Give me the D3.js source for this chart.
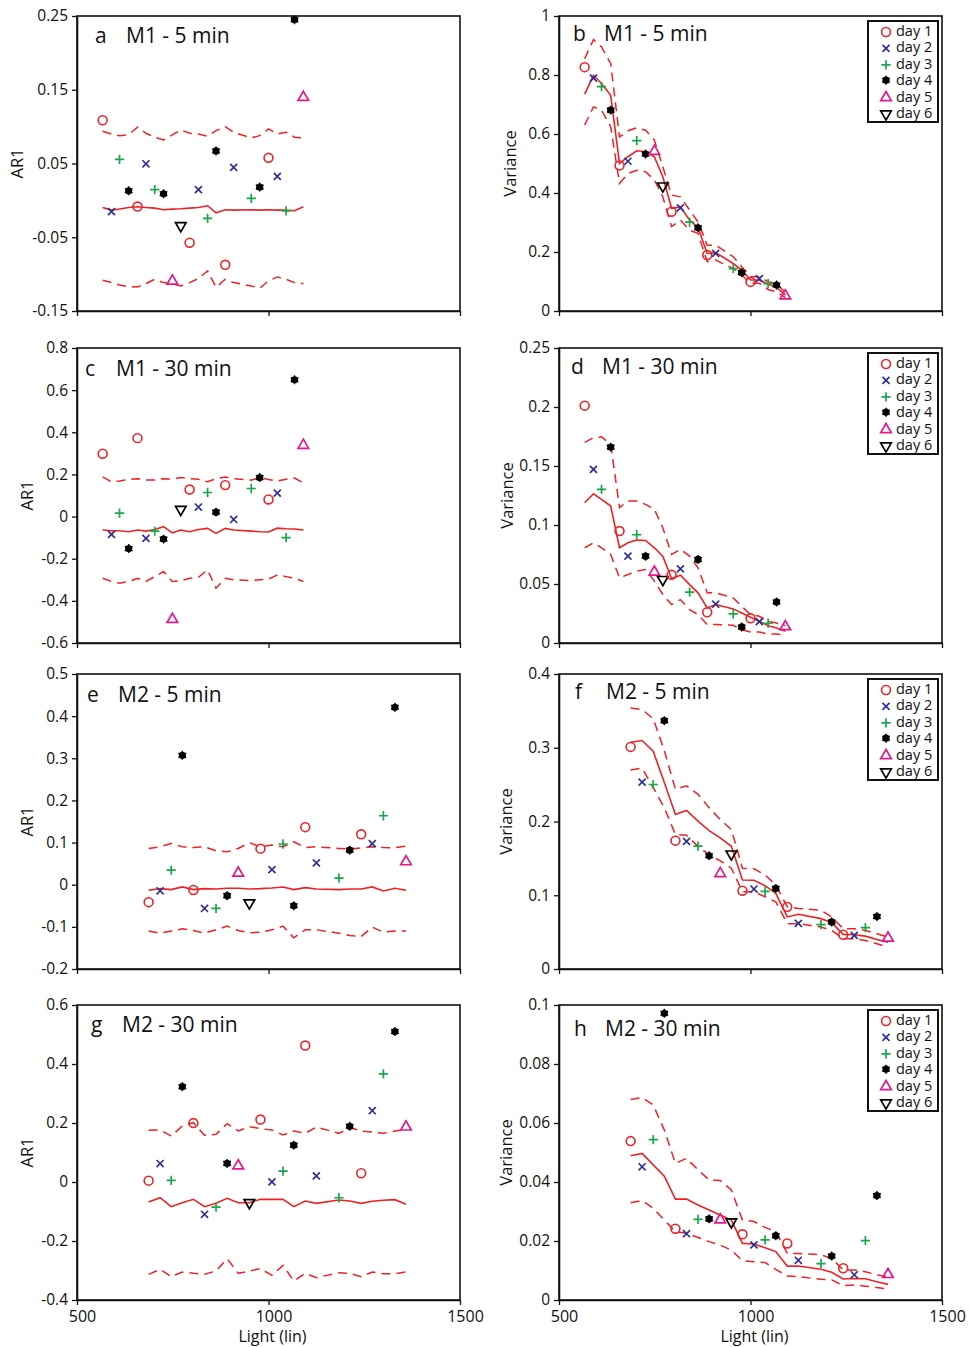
<!DOCTYPE html>
<html>
<head>
<meta charset="utf-8">
<script src="https://cdn.jsdelivr.net/npm/d3@7"></script>
<style>
  body { margin: 0; background: #fff; }
  svg text { font-family: "Open Sans", sans-serif; fill: #111; }
</style>
</head>
<body>
<svg id="chart" width="969" height="1347"></svg>
<script>
// light levels (x) for each measurement set
const levelsM1 = [567, 590, 611, 635, 658, 680, 703, 726, 749, 771, 794, 817, 841, 863, 887, 909, 955, 977, 1000, 1023, 1046, 1068, 1091];
const levelsM2 = [687, 717, 746, 775, 804, 833, 863, 892, 921, 950, 979, 1009, 1038, 1066, 1096, 1125, 1184, 1212, 1242, 1271, 1300, 1330, 1359];
// which day each observation belongs to (same order in every panel)
const dayOfPoint = [1, 2, 3, 4, 1, 2, 3, 4, 5, 6, 1, 2, 3, 4, 1, 2, 3, 4, 1, 2, 3, 4, 5];
const dayNames = ["day 1", "day 2", "day 3", "day 4", "day 5", "day 6"];
const xTicks = [500, 1000, 1500];

// a  M1 - 5 min (AR1)
const pointsA = [0.110, -0.014, 0.057, 0.013, -0.007, 0.051, 0.016, 0.009, -0.108, -0.033, -0.056, 0.016, -0.023, 0.067, -0.086, 0.046, 0.004, 0.018, 0.059, 0.034, -0.013, 0.245, 0.141];
const meanA = [-0.0096, -0.0132, -0.0118, -0.0096, -0.0087, -0.0096, -0.0105, -0.0127, -0.0118, -0.0114, -0.0105, -0.0096, -0.0073, -0.0168, -0.0127, -0.0132, -0.0127, -0.0132, -0.0127, -0.0132, -0.0132, -0.0141, -0.0087];
const upperA = [0.0937, 0.090, 0.0878, 0.0892, 0.0992, 0.091, 0.0856, 0.082, 0.0887, 0.0955, 0.091, 0.090, 0.087, 0.0946, 0.100, 0.0924, 0.0847, 0.0878, 0.0969, 0.090, 0.0924, 0.0856, 0.0847];
const lowerA = [-0.1083, -0.1115, -0.1147, -0.117, -0.1174, -0.1129, -0.107, -0.1115, -0.1129, -0.116, -0.1115, -0.106, -0.0956, -0.118, -0.107, -0.1115, -0.116, -0.1192, -0.1092, -0.1038, -0.107, -0.1115, -0.1129];
const ticksA = [-0.15, -0.05, 0.05, 0.15, 0.25];

// b  M1 - 5 min (variance)
const pointsB = [0.830, 0.793, 0.764, 0.681, 0.497, 0.511, 0.581, 0.532, 0.545, 0.427, 0.340, 0.353, 0.305, 0.282, 0.193, 0.199, 0.147, 0.130, 0.102, 0.113, 0.096, 0.088, 0.055];
const meanB = [0.735, 0.799, 0.771, 0.731, 0.500, 0.523, 0.543, 0.540, 0.523, 0.455, 0.348, 0.353, 0.308, 0.283, 0.195, 0.198, 0.161, 0.139, 0.105, 0.105, 0.091, 0.080, 0.054];
const upperB = [0.855, 0.920, 0.895, 0.839, 0.590, 0.611, 0.621, 0.613, 0.579, 0.489, 0.393, 0.387, 0.342, 0.302, 0.223, 0.223, 0.184, 0.150, 0.116, 0.116, 0.099, 0.094, 0.062];
const lowerB = [0.630, 0.692, 0.681, 0.624, 0.432, 0.466, 0.477, 0.472, 0.444, 0.387, 0.286, 0.308, 0.274, 0.263, 0.167, 0.173, 0.144, 0.122, 0.094, 0.094, 0.073, 0.065, 0.045];
const ticksB = [0, 0.2, 0.4, 0.6, 0.8, 1];

// c  M1 - 30 min (AR1)
const pointsC = [0.303, -0.080, 0.021, -0.152, 0.377, -0.099, -0.064, -0.107, -0.483, 0.039, 0.133, 0.050, 0.119, 0.021, 0.154, -0.009, 0.138, 0.185, 0.086, 0.116, -0.095, 0.649, 0.343];
const meanC = [-0.064, -0.067, -0.067, -0.072, -0.064, -0.069, -0.061, -0.048, -0.077, -0.064, -0.072, -0.061, -0.056, -0.080, -0.056, -0.064, -0.069, -0.072, -0.073, -0.055, -0.058, -0.059, -0.064];
const upperC = [0.188, 0.165, 0.169, 0.176, 0.180, 0.173, 0.173, 0.180, 0.177, 0.185, 0.180, 0.177, 0.165, 0.180, 0.188, 0.180, 0.173, 0.185, 0.176, 0.169, 0.177, 0.183, 0.160];
const lowerC = [-0.293, -0.308, -0.316, -0.308, -0.293, -0.308, -0.285, -0.261, -0.308, -0.304, -0.293, -0.288, -0.253, -0.340, -0.293, -0.300, -0.304, -0.300, -0.297, -0.277, -0.285, -0.293, -0.308];
const ticksC = [-0.6, -0.4, -0.2, 0, 0.2, 0.4, 0.6, 0.8];

// d  M1 - 30 min (variance)
const pointsD = [0.202, 0.148, 0.131, 0.166, 0.0957, 0.0745, 0.0926, 0.0736, 0.0609, 0.0546, 0.0586, 0.0637, 0.0439, 0.0708, 0.0269, 0.0337, 0.0255, 0.0136, 0.0218, 0.019, 0.0176, 0.0348, 0.0147];
const meanD = [0.1189, 0.1265, 0.1217, 0.1161, 0.0807, 0.0849, 0.0872, 0.0869, 0.0807, 0.0736, 0.0546, 0.0575, 0.0495, 0.0425, 0.0297, 0.0326, 0.0289, 0.0255, 0.0218, 0.0184, 0.0147, 0.0127, 0.0099];
const upperD = [0.170, 0.174, 0.1747, 0.1685, 0.1147, 0.1203, 0.1203, 0.1175, 0.1133, 0.0977, 0.075, 0.0793, 0.0736, 0.0637, 0.0425, 0.0425, 0.0382, 0.0311, 0.0241, 0.0226, 0.0184, 0.017, 0.0147];
const lowerD = [0.0807, 0.0849, 0.0807, 0.075, 0.0552, 0.058, 0.0609, 0.0623, 0.0524, 0.0411, 0.0326, 0.0368, 0.0283, 0.0241, 0.0156, 0.0156, 0.015, 0.0113, 0.0093, 0.0093, 0.0076, 0.0076, 0.0065];
const ticksD = [0, 0.05, 0.1, 0.15, 0.2, 0.25];

// e  M2 - 5 min (AR1)
const pointsE = [-0.039, -0.012, 0.037, 0.307, -0.010, -0.054, -0.054, -0.026, 0.030, -0.041, 0.088, 0.038, 0.099, -0.050, 0.139, 0.054, 0.018, 0.082, 0.122, 0.100, 0.166, 0.421, 0.057];
const meanE = [-0.0133, -0.0093, -0.0117, -0.0053, -0.0117, -0.0093, -0.0101, -0.0085, -0.0085, -0.0101, -0.0093, -0.0077, -0.0053, -0.0117, -0.0069, -0.0101, -0.0117, -0.0101, -0.0101, -0.0053, -0.0149, -0.0085, -0.0133];
const upperE = [0.086, 0.090, 0.098, 0.090, 0.0884, 0.090, 0.0805, 0.078, 0.086, 0.0996, 0.090, 0.094, 0.090, 0.102, 0.0884, 0.090, 0.086, 0.0845, 0.0876, 0.090, 0.0884, 0.0876, 0.0916];
const lowerE = [-0.110, -0.115, -0.110, -0.1046, -0.1086, -0.115, -0.107, -0.0983, -0.1086, -0.1142, -0.1126, -0.107, -0.0983, -0.1261, -0.107, -0.107, -0.115, -0.1205, -0.1229, -0.1007, -0.1126, -0.110, -0.110];
const ticksE = [-0.2, -0.1, 0, 0.1, 0.2, 0.3, 0.4, 0.5];

// f  M2 - 5 min (variance)
const pointsF = [0.3025, 0.2547, 0.2515, 0.3367, 0.1754, 0.1745, 0.1681, 0.1535, 0.1308, 0.1572, 0.1075, 0.1098, 0.1066, 0.1093, 0.0856, 0.0633, 0.0615, 0.0638, 0.0478, 0.0469, 0.0574, 0.0711, 0.0433];
const meanF = [0.3075, 0.3098, 0.2952, 0.2528, 0.2096, 0.215, 0.2005, 0.1877, 0.1777, 0.1663, 0.1207, 0.1203, 0.113, 0.1025, 0.0706, 0.0743, 0.0683, 0.0629, 0.0469, 0.0465, 0.0446, 0.0401, 0.0364];
const upperF = [0.354, 0.3517, 0.3394, 0.2961, 0.2437, 0.2483, 0.2369, 0.2187, 0.2027, 0.1891, 0.1367, 0.1358, 0.1276, 0.1139, 0.0843, 0.082, 0.0797, 0.0706, 0.0547, 0.0547, 0.0524, 0.0478, 0.0433];
const lowerF = [0.2697, 0.2724, 0.246, 0.2187, 0.1822, 0.1813, 0.1663, 0.1549, 0.1467, 0.1367, 0.1048, 0.1048, 0.0979, 0.0911, 0.0615, 0.0615, 0.0569, 0.0524, 0.041, 0.041, 0.0387, 0.0342, 0.0296];
const ticksF = [0, 0.1, 0.2, 0.3, 0.4];

// g  M2 - 30 min (AR1)
const pointsG = [0.008, 0.066, 0.009, 0.323, 0.203, -0.106, -0.082, 0.063, 0.058, -0.067, 0.215, 0.004, 0.040, 0.125, 0.466, 0.024, -0.050, 0.189, 0.033, 0.245, 0.370, 0.510, 0.190];
const meanG = [-0.0678, -0.0531, -0.0836, -0.0701, -0.0588, -0.0836, -0.0723, -0.0554, -0.0701, -0.0701, -0.0588, -0.0588, -0.0588, -0.0836, -0.0644, -0.0723, -0.061, -0.0644, -0.0723, -0.0655, -0.0621, -0.0599, -0.0757];
const upperG = [0.1751, 0.1763, 0.1559, 0.1898, 0.2011, 0.1582, 0.1616, 0.1977, 0.1729, 0.1876, 0.1808, 0.1763, 0.1593, 0.1729, 0.165, 0.1864, 0.165, 0.1842, 0.1729, 0.1695, 0.165, 0.1729, 0.1785];
const lowerG = [-0.313, -0.296, -0.3209, -0.3051, -0.3096, -0.313, -0.3017, -0.2599, -0.3096, -0.3017, -0.2938, -0.3164, -0.2825, -0.3356, -0.3096, -0.3243, -0.3073, -0.3096, -0.3209, -0.3051, -0.3107, -0.3107, -0.3051];
const ticksG = [-0.4, -0.2, 0, 0.2, 0.4, 0.6];

// h  M2 - 30 min (variance)
const pointsH = [0.0542, 0.0455, 0.0547, 0.0972, 0.0245, 0.0228, 0.0277, 0.0275, 0.0275, 0.0268, 0.0226, 0.019, 0.0207, 0.0218, 0.0195, 0.0138, 0.0127, 0.0149, 0.0111, 0.0089, 0.0205, 0.0354, 0.009];
const meanH = [0.0489, 0.0497, 0.0458, 0.042, 0.0342, 0.0342, 0.0322, 0.0305, 0.0288, 0.0271, 0.0192, 0.019, 0.0177, 0.0164, 0.0115, 0.0115, 0.0104, 0.0094, 0.0071, 0.0073, 0.0072, 0.0062, 0.0053];
const upperH = [0.068, 0.0686, 0.0661, 0.0576, 0.0463, 0.048, 0.0441, 0.0407, 0.0405, 0.0373, 0.0271, 0.0266, 0.0246, 0.0232, 0.0158, 0.0158, 0.0153, 0.0141, 0.0102, 0.0102, 0.0096, 0.0085, 0.0079];
const lowerH = [0.033, 0.0337, 0.0311, 0.0271, 0.0232, 0.0226, 0.0212, 0.0198, 0.0186, 0.0169, 0.0133, 0.013, 0.0127, 0.0104, 0.0081, 0.0079, 0.007, 0.0068, 0.0049, 0.0051, 0.0047, 0.0042, 0.0037];
const ticksH = [0, 0.02, 0.04, 0.06, 0.08, 0.1];

const panels = [
  { id: "a", title: "M1 - 5 min",  levels: levelsM1, ylabel: "AR1",      points: pointsA, mean: meanA, upper: upperA, lower: lowerA, ticks: ticksA },
  { id: "b", title: "M1 - 5 min",  levels: levelsM1, ylabel: "Variance", points: pointsB, mean: meanB, upper: upperB, lower: lowerB, ticks: ticksB },
  { id: "c", title: "M1 - 30 min", levels: levelsM1, ylabel: "AR1",      points: pointsC, mean: meanC, upper: upperC, lower: lowerC, ticks: ticksC },
  { id: "d", title: "M1 - 30 min", levels: levelsM1, ylabel: "Variance", points: pointsD, mean: meanD, upper: upperD, lower: lowerD, ticks: ticksD },
  { id: "e", title: "M2 - 5 min",  levels: levelsM2, ylabel: "AR1",      points: pointsE, mean: meanE, upper: upperE, lower: lowerE, ticks: ticksE },
  { id: "f", title: "M2 - 5 min",  levels: levelsM2, ylabel: "Variance", points: pointsF, mean: meanF, upper: upperF, lower: lowerF, ticks: ticksF },
  { id: "g", title: "M2 - 30 min", levels: levelsM2, ylabel: "AR1",      points: pointsG, mean: meanG, upper: upperG, lower: lowerG, ticks: ticksG },
  { id: "h", title: "M2 - 30 min", levels: levelsM2, ylabel: "Variance", points: pointsH, mean: meanH, upper: upperH, lower: lowerH, ticks: ticksH }
];

// layout
const COL_X = [77, 559];
const ROW_Y = [16, 348, 674, 1005];
const PLOT_W = 383;
const PLOT_H = 295;
const titleDx = { a: 18, b: 14, c: 8, d: 12, e: 10, f: 16, g: 14, h: 15 };
const titleDy = { a: 27, b: 25, c: 28, d: 26, e: 28, f: 25, g: 27, h: 31 };
const ylabelDx = { a: -54, b: -43, c: -44, d: -46, e: -44, f: -47, g: -44, h: -47 };

const RED = "#ec2227";
const dayStyle = {
  1: { type: d3.symbolCircle, size: 62, color: "#ec2227", width: 1.6 },
  2: { type: d3.symbolX, size: 34, color: "#2e3192", width: 1.7 },
  3: { type: d3.symbolPlus, size: 30, color: "#1aa64a", width: 1.7 },
  4: { type: "star", color: "#000" },
  5: { type: d3.symbolTriangle2, size: 80, color: "#e3198b", width: 1.7 },
  6: { type: d3.symbolTriangle2, size: 80, color: "#000", width: 1.7, rotate: 180 }
};

const fmt = d => String(+d.toFixed(3));
const svg = d3.select("#chart");

function drawMarker(g, day, x, y) {
  const s = dayStyle[day];
  const m = g.append("g").attr("transform", `translate(${x},${y})`);
  if (s.type === "star") {
    m.append("circle").attr("r", 3.6).attr("fill", "#000");
    m.append("path")
      .attr("d", d3.symbol(d3.symbolAsterisk, 56)())
      .attr("fill", "none").attr("stroke", "#000").attr("stroke-width", 1.3);
    return;
  }
  m.append("path")
    .attr("d", d3.symbol(s.type, s.size)())
    .attr("transform", s.rotate ? `rotate(${s.rotate}) translate(0,-1)` : "translate(0,1)")
    .attr("fill", "none")
    .attr("stroke", s.color)
    .attr("stroke-width", s.width);
}

panels.forEach((p, i) => {
  const col = i % 2, row = Math.floor(i / 2);
  const x0 = COL_X[col], y0 = ROW_Y[row];
  const g = svg.append("g").attr("transform", `translate(${x0},${y0})`);

  const x = d3.scaleLinear().domain([500, 1500]).range([0, PLOT_W]);
  const y = d3.scaleLinear().domain(d3.extent(p.ticks)).range([PLOT_H, 0]);

  // plot frame
  g.append("rect")
    .attr("width", PLOT_W).attr("height", PLOT_H)
    .attr("fill", "none").attr("stroke", "#111").attr("stroke-width", 1.6);

  // y axis
  const yAxis = g.append("g")
    .call(d3.axisLeft(y).tickValues(p.ticks).tickFormat(fmt).tickSize(5).tickPadding(4).tickSizeOuter(0));
  yAxis.select(".domain").attr("stroke", "#111").attr("stroke-width", 1.6);
  yAxis.selectAll(".tick line").attr("stroke", "#111").attr("stroke-width", 1.3);
  yAxis.selectAll("text").attr("font-size", 15.5).attr("font-family", "Open Sans, sans-serif").attr("fill", "#111");

  // x axis
  const bottom = row === ROW_Y.length - 1;
  const xAxis = g.append("g")
    .attr("transform", `translate(0,${PLOT_H})`)
    .call(d3.axisBottom(x).tickValues(xTicks).tickSize(5).tickPadding(6).tickSizeOuter(0)
      .tickFormat(bottom ? d3.format("d") : () => ""));
  xAxis.select(".domain").attr("stroke", "#111").attr("stroke-width", 1.6);
  xAxis.selectAll(".tick line").attr("stroke", "#111").attr("stroke-width", 1.3);
  xAxis.selectAll("text").attr("font-size", 16).attr("dx", 5)
    .attr("font-family", "Open Sans, sans-serif").attr("fill", "#111");

  if (bottom) {
    g.append("text")
      .attr("x", PLOT_W / 2 + 4).attr("y", PLOT_H + 42)
      .attr("text-anchor", "middle").attr("font-size", 16)
      .text("Light (lin)");
  }

  // y label
  g.append("text")
    .attr("transform", `translate(${ylabelDx[p.id]},${PLOT_H / 2}) rotate(-90)`)
    .attr("text-anchor", "middle").attr("font-size", 16.5)
    .text(p.ylabel);

  // panel title
  g.append("text")
    .attr("x", titleDx[p.id]).attr("y", titleDy[p.id])
    .attr("font-size", 21).text(p.id);
  g.append("text")
    .attr("x", titleDx[p.id] + 31).attr("y", titleDy[p.id])
    .attr("font-size", 21).text(p.title);

  // mean and confidence lines
  const line = d3.line().x((d, k) => x(p.levels[k])).y(d => y(d));
  g.append("path").attr("d", line(p.upper))
    .attr("fill", "none").attr("stroke", RED).attr("stroke-width", 1.5).attr("stroke-dasharray", "9,6");
  g.append("path").attr("d", line(p.lower))
    .attr("fill", "none").attr("stroke", RED).attr("stroke-width", 1.5).attr("stroke-dasharray", "9,6");
  g.append("path").attr("d", line(p.mean))
    .attr("fill", "none").attr("stroke", RED).attr("stroke-width", 1.6);

  // observations
  p.points.forEach((v, k) => drawMarker(g, dayOfPoint[k], x(p.levels[k]), y(v)));

  // legend on the right-hand panels
  if (col === 1) {
    const lx = PLOT_W - 74, ly = 5;
    const lg = g.append("g").attr("transform", `translate(${lx},${ly})`);
    lg.append("rect").attr("width", 70).attr("height", 101)
      .attr("fill", "#fff").attr("stroke", "#111").attr("stroke-width", 2);
    dayNames.forEach((name, k) => {
      const cy = 10 + k * 16.4;
      drawMarker(lg, k + 1, 18, cy);
      lg.append("text").attr("x", 28).attr("y", cy + 5)
        .attr("font-family", "Liberation Sans, Arial, sans-serif")
        .attr("font-size", 14.5).text(name);
    });
  }
});
</script>
</body>
</html>
